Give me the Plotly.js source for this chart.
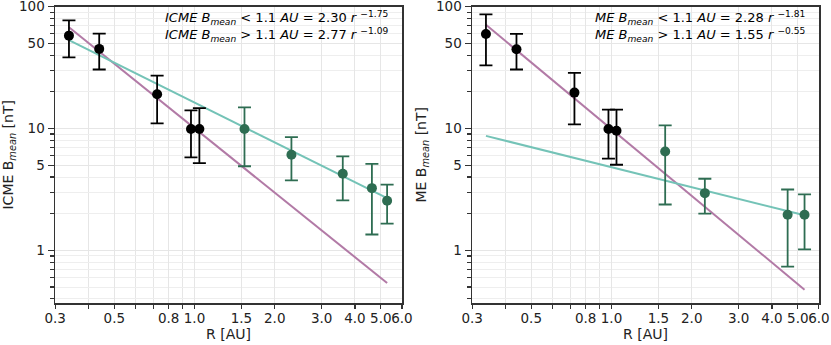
<!DOCTYPE html>
<html>
<head>
<meta charset="utf-8">
<script src="https://cdn.plot.ly/plotly-3.0.1.min.js"></script>
<style>
  body { margin: 0; background: #fff; }
  #chart { width: 831px; height: 345px; }
</style>
</head>
<body>
<div id="chart"></div>
<script>
// ICME panel (left)
const icmeInR = [0.338, 0.439, 0.724, 0.97, 1.043];
const icmeInB = [57.8, 45, 19.1, 9.9, 9.9];
const icmeInHi = [77, 60, 27.2, 14.1, 14.7];
const icmeInLo = [38.4, 30.5, 11, 5.8, 5.2];

const icmeOutR = [1.54, 2.31, 3.6, 4.63, 5.28];
const icmeOutB = [9.9, 6.1, 4.25, 3.24, 2.55];
const icmeOutHi = [14.9, 8.5, 5.9, 5.13, 3.47];
const icmeOutLo = [4.9, 3.75, 2.57, 1.35, 1.66];

const icmeFitR = [0.338, 5.28];
const icmeFitIn = [67.7, 0.54];
const icmeFitOut = [53, 2.68];

// ME panel (right)
const meInR = [0.338, 0.44, 0.726, 0.974, 1.044];
const meInB = [59.7, 44.7, 19.7, 9.9, 9.6];
const meInHi = [86.5, 59.7, 28.6, 14.3, 14.3];
const meInLo = [33, 30.5, 10.8, 5.65, 5.04];

const meOutR = [1.59, 2.24, 4.58, 5.3];
const meOutB = [6.48, 2.95, 1.96, 1.96];
const meOutHi = [10.6, 3.87, 3.16, 2.88];
const meOutLo = [2.38, 2.0, 0.735, 1.02];

const meFitR = [0.338, 5.3];
const meFitIn = [71, 0.476];
const meFitOut = [8.7, 1.94];

const xTicks = [0.3, 0.5, 0.8, 1.0, 1.5, 2.0, 3.0, 4.0, 5.0, 6.0];
const xTickText = ['0.3', '0.5', '0.8', '1.0', '1.5', '2.0', '3.0', '4.0', '5.0', '6.0'];
const xMinor = [0.4, 0.6, 0.7, 0.9];
const yTicks = [1, 5, 10, 50, 100];
const yMinor = [0.4, 0.5, 0.6, 0.7, 0.8, 0.9, 2, 3, 4, 6, 7, 8, 9, 20, 30, 40, 60, 70, 80, 90];

const annIcme = ['<i>ICME B<sub>mean</sub></i> &lt; 1.1 <i>AU</i> = 2.30 <i>r</i> <sup>−1.75</sup>',
                 '<i>ICME B<sub>mean</sub></i> &gt; 1.1 <i>AU</i> = 2.77 <i>r</i> <sup>−1.09</sup>'];
const annMe = ['<i>ME B<sub>mean</sub></i> &lt; 1.1 <i>AU</i> = 2.28 <i>r</i> <sup>−1.81</sup>',
               '<i>ME B<sub>mean</sub></i> &gt; 1.1 <i>AU</i> = 1.55 <i>r</i> <sup>−0.55</sup>'];

const BLACK = '#000000';
const GREEN = '#2e6d52';
const TEAL = '#74c3b7';
const PINK = '#b27aa6';

function diffs(a, b) { return a.map((v, i) => Math.abs(v - b[i])); }

function pointTrace(r, b, hi, lo, color, xa, ya) {
  return {
    type: 'scatter', mode: 'markers', x: r, y: b, xaxis: xa, yaxis: ya,
    marker: { color: color, size: 10 },
    error_y: {
      type: 'data', symmetric: false,
      array: diffs(hi, b), arrayminus: diffs(b, lo),
      color: color, thickness: 1.8, width: 6.5
    },
    showlegend: false
  };
}

function lineTrace(r, b, color, xa, ya) {
  return {
    type: 'scatter', mode: 'lines', x: r, y: b, xaxis: xa, yaxis: ya,
    line: { color: color, width: 2 }, showlegend: false
  };
}

const data = [
  lineTrace(icmeFitR, icmeFitIn, PINK, 'x', 'y'),
  lineTrace(icmeFitR, icmeFitOut, TEAL, 'x', 'y'),
  pointTrace(icmeInR, icmeInB, icmeInHi, icmeInLo, BLACK, 'x', 'y'),
  pointTrace(icmeOutR, icmeOutB, icmeOutHi, icmeOutLo, GREEN, 'x', 'y'),
  lineTrace(meFitR, meFitIn, PINK, 'x2', 'y2'),
  lineTrace(meFitR, meFitOut, TEAL, 'x2', 'y2'),
  pointTrace(meInR, meInB, meInHi, meInLo, BLACK, 'x2', 'y2'),
  pointTrace(meOutR, meOutB, meOutHi, meOutLo, GREEN, 'x2', 'y2')
];

const FONT = 'DejaVu Sans, sans-serif';

function xAxis(domain, anchor) {
  return {
    type: 'log', domain: domain, anchor: anchor,
    range: [Math.log10(0.3) - 0.0005, Math.log10(6.0) + 0.0005],
    tickmode: 'array', tickvals: xTicks, ticktext: xTickText, tickangle: 0,
    ticks: 'outside', ticklen: 4, tickwidth: 1.2, tickcolor: '#333',
    ticklabelstandoff: -2, ticklabeloverflow: 'allow',
    tickfont: { family: FONT, size: 13.5, color: '#222' },
    showgrid: true, gridcolor: '#e6e6e6', gridwidth: 1,
    minor: { tickvals: xMinor, ticks: 'outside', ticklen: 4, tickcolor: '#333', showgrid: true, gridcolor: '#e6e6e6' },
    showline: true, linecolor: '#333', linewidth: 1.5, mirror: true,
    zeroline: false,
    title: { text: 'R [AU]', font: { family: FONT, size: 14, color: '#222' }, standoff: 3 }
  };
}

function yAxis(anchor, title) {
  return {
    type: 'log', domain: [0.1217, 0.981], anchor: anchor,
    range: [Math.log10(0.37), 2.0005],
    tickmode: 'array', tickvals: yTicks, ticktext: yTicks.map(String),
    ticks: 'outside', ticklen: 6, tickwidth: 1.2, tickcolor: '#333',
    ticklabeloverflow: 'allow',
    tickfont: { family: FONT, size: 13.5, color: '#222' },
    showgrid: true, gridcolor: '#e6e6e6', gridwidth: 1,
    minor: { tickvals: yMinor, ticks: 'outside', ticklen: 3.5, tickcolor: '#333', showgrid: true, gridcolor: '#eeeeee' },
    showline: true, linecolor: '#333', linewidth: 1.5, mirror: true,
    zeroline: false,
    title: { text: title, font: { family: FONT, size: 14, color: '#222' }, standoff: 6 }
  };
}

function annotations(lines, xref, yref) {
  return lines.map((t, i) => ({
    text: t, xref: xref + ' domain', yref: yref + ' domain',
    x: 0.965, y: 1.0 - i * 0.058, xanchor: 'right', yanchor: 'top',
    showarrow: false, align: 'right',
    font: { family: FONT, size: 13, color: '#000' }
  }));
}

const layout = {
  width: 831, height: 345,
  margin: { l: 0, r: 0, t: 0, b: 0 },
  paper_bgcolor: '#fff', plot_bgcolor: '#fff',
  xaxis: xAxis([0.0662, 0.4838], 'y'),
  yaxis: yAxis('x', 'ICME B<sub><i>mean</i></sub> [nT]'),
  xaxis2: xAxis([0.568, 0.9856], 'y2'),
  yaxis2: yAxis('x2', 'ME B<sub><i>mean</i></sub> [nT]'),
  annotations: annotations(annIcme, 'x', 'y').concat(annotations(annMe, 'x2', 'y2'))
};

Plotly.newPlot('chart', data, layout, { displayModeBar: false, staticPlot: true });
</script>
</body>
</html>
